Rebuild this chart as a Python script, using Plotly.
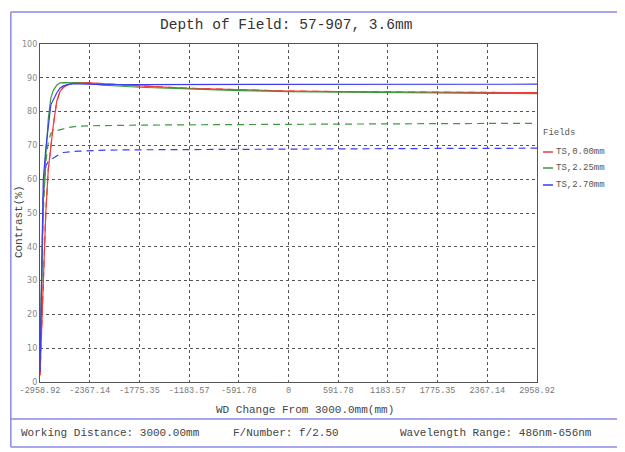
import plotly.graph_objects as go

# ---------------- data ----------------
x_tick_vals = [-2958.92, -2367.14, -1775.35, -1183.57, -591.78, 0, 591.78, 1183.57, 1775.35, 2367.14, 2958.92]
x_tick_text = ["-2958.92", "-2367.14", "-1775.35", "-1183.57", "-591.78", "0", "591.78", "1183.57", "1775.35", "2367.14", "2958.92"]
y_tick_vals = [0, 10, 20, 30, 40, 50, 60, 70, 80, 90, 100]

wd = [-2958.92, -2920, -2890, -2860, -2830, -2800, -2760, -2720, -2680, -2630, -2570,
      -2500, -2367, -2200, -1775, -1184, -592, 0, 592, 1184, 1775, 2367, 2958.92]

red_t = [2, 30, 50, 63, 70.6, 76, 83, 86, 87.2, 87.9, 88.4,
         88.55, 88.5, 88.2, 87.6, 86.9, 86.4, 86.1, 85.9, 85.8, 85.7, 85.6, 85.6]
red_s = red_t
green_t = [8, 55, 67, 78, 84, 86.3, 87.8, 88.5, 88.6, 88.6, 88.6,
           88.5, 88.3, 87.8, 87.2, 86.6, 86.2, 85.9, 85.7, 85.6, 85.5, 85.4, 85.3]
green_s = [5, 50, 65, 71, 73.6, 74.2, 74.4, 74.6, 74.9, 75.3, 75.5,
           75.7, 75.8, 75.9, 76.0, 76.1, 76.2, 76.3, 76.3, 76.4, 76.4, 76.5, 76.5]
blue_t = [3, 59.8, 69, 75.5, 82, 83.5, 85.5, 87.0, 87.6, 88.0, 88.2,
          88.2, 88.1, 88.0, 88.0, 88.0, 88.0, 88.0, 88.0, 88.0, 88.1, 88.1, 88.1]
blue_s = [3, 55, 63.9, 65.2, 65.8, 66.3, 67.0, 67.5, 67.9, 68.1, 68.2,
          68.3, 68.5, 68.6, 68.7, 68.8, 68.9, 69.0, 69.0, 69.1, 69.1, 69.1, 69.2]

legend_labels = ["TS,0.00mm", "TS,2.25mm", "TS,2.70mm"]
colors = ["#f03c3c", "#3c9a3c", "#3c3cf0"]

title_text = "Depth of Field: 57-907, 3.6mm"
x_title = "WD Change From 3000.0mm(mm)"
y_title = "Contrast(%)"
footer = ["Working Distance: 3000.00mm", "F/Number: f/2.50", "Wavelength Range: 486nm-656nm"]

# ---------------- layout geometry ----------------
OFF = 8  # page body margin
W, H = 625 - OFF, 452 - OFF
L, T = 38 - OFF, 44 - OFF
R = W - (537 - OFF)
B = H - (382 - OFF)
PW, PH = W - L - R, H - T - B

def px(xs):
    return (xs - OFF - L) / PW

def py(ys):
    return (H - B - (ys - OFF)) / PH

MONO = "Liberation Mono, Courier New, monospace"

fig = go.Figure()
series = [(red_t, red_s, colors[0]), (green_t, green_s, colors[1]), (blue_t, blue_s, colors[2])]
for t_vals, s_vals, c in series:
    fig.add_trace(go.Scatter(x=wd, y=s_vals, mode="lines",
                             line=dict(color=c, width=1.2, dash="7px,5px"),
                             showlegend=False, hoverinfo="skip"))
for t_vals, s_vals, c in series:
    fig.add_trace(go.Scatter(x=wd, y=t_vals, mode="lines",
                             line=dict(color=c, width=1.2),
                             showlegend=False, hoverinfo="skip"))

shapes = []
frame_col = "#8a8ae8"
shapes.append(dict(type="line", xref="paper", yref="paper", x0=px(8.7), x1=px(626), y0=py(12), y1=py(12),
                   line=dict(color=frame_col, width=1.5)))
shapes.append(dict(type="line", xref="paper", yref="paper", x0=px(8.7), x1=px(8.7), y0=py(12), y1=py(447),
                   line=dict(color=frame_col, width=1.5)))
shapes.append(dict(type="line", xref="paper", yref="paper", x0=px(8.7), x1=px(626), y0=py(419), y1=py(419),
                   line=dict(color=frame_col, width=1.5)))
shapes.append(dict(type="line", xref="paper", yref="paper", x0=px(8.7), x1=px(626), y0=py(447), y1=py(447),
                   line=dict(color=frame_col, width=1.5)))

annotations = []
annotations.append(dict(text=title_text, xref="paper", yref="paper", x=px(285), y=py(25),
                        showarrow=False, font=dict(family=MONO, size=14.5, color="#333333"),
                        xanchor="center", yanchor="middle"))
annotations.append(dict(text=x_title, xref="paper", yref="paper", x=px(304), y=py(410),
                        showarrow=False, font=dict(family=MONO, size=11, color="#444444"),
                        xanchor="center", yanchor="middle"))
annotations.append(dict(text=y_title, xref="paper", yref="paper", x=px(17), y=py(222),
                        showarrow=False, textangle=-90, font=dict(family=MONO, size=11, color="#444444"),
                        xanchor="center", yanchor="middle"))
foot_x = [17, 230, 397]
for fx, ft in zip(foot_x, footer):
    annotations.append(dict(text=ft, xref="paper", yref="paper", x=px(fx), y=py(433),
                            showarrow=False, font=dict(family=MONO, size=11, color="#444444"),
                            xanchor="left", yanchor="middle"))
annotations.append(dict(text="Fields", xref="paper", yref="paper", x=px(541), y=py(133),
                        showarrow=False, font=dict(family=MONO, size=9, color="#555555"),
                        xanchor="left", yanchor="middle"))
leg_y = [152, 168, 185]
for ly, lab, c in zip(leg_y, legend_labels, colors):
    shapes.append(dict(type="line", xref="paper", yref="paper", x0=px(543), x1=px(553), y0=py(ly), y1=py(ly),
                       line=dict(color=c, width=1.5)))
    annotations.append(dict(text=lab, xref="paper", yref="paper", x=px(554), y=py(ly),
                            showarrow=False, font=dict(family=MONO, size=9, color="#555555"),
                            xanchor="left", yanchor="middle"))

fig.update_layout(
    width=W, height=H,
    margin=dict(l=L, r=R, t=T, b=B),
    paper_bgcolor="white", plot_bgcolor="white",
    shapes=shapes, annotations=annotations,
    showlegend=False,
)
fig.update_xaxes(range=[-2958.92, 2958.92], tickvals=x_tick_vals, ticktext=x_tick_text,
                 showgrid=True, gridcolor="#555555", griddash="dot", gridwidth=1,
                 showline=True, linecolor="#555555", linewidth=1.2, mirror=True,
                 zeroline=False, ticks="", ticklen=0,
                 tickfont=dict(family=MONO, size=8.5, color="#777777"))
fig.update_yaxes(range=[0, 100], tickvals=y_tick_vals,
                 showgrid=True, gridcolor="#555555", griddash="dot", gridwidth=1,
                 showline=True, linecolor="#555555", linewidth=1.2, mirror=True,
                 zeroline=False, ticks="", ticklen=0,
                 tickfont=dict(family="DejaVu Sans, sans-serif", size=8, color="#888888"))

fig.write_html("out.html")
